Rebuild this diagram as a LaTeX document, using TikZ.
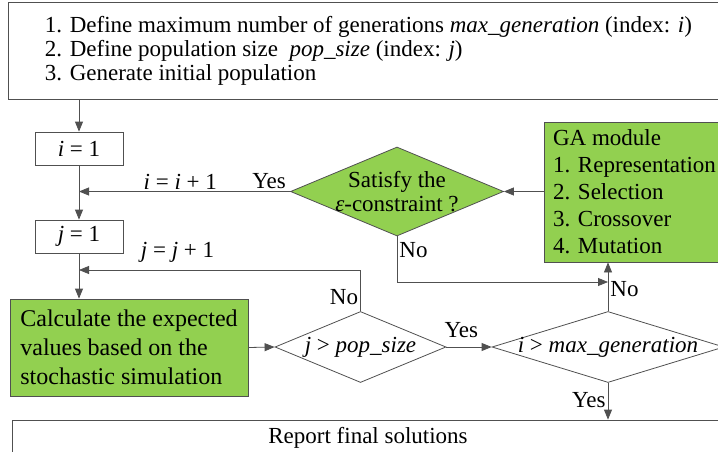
\documentclass[tikz,border=0pt]{standalone}
\usepackage{fontspec}
\setmainfont{Liberation Serif}
\usetikzlibrary{shapes.geometric,arrows.meta}
\definecolor{flowgreen}{RGB}{146,208,80}
\definecolor{flowline}{RGB}{80,80,80}
\tikzstyle{flowbox}=[rectangle, draw=flowline, line width=0.8pt, inner sep=0pt]
\tikzstyle{flowgreenbox}=[flowbox, fill=flowgreen]
\tikzstyle{flowdiamond}=[diamond, draw=flowline, line width=0.8pt, inner sep=0pt]
\tikzstyle{flowarrow}=[draw=flowline, line width=0.8pt, -{Triangle[length=10pt,width=8pt]}]
\tikzstyle{flowlabel}=[inner sep=2pt]
\newcommand{\flowdecision}[4]{
	\node[flowdiamond, #4] (#1) at (#2) {};
	\node[align=center, inner sep=0pt] (#1-text) at (#2) {#3};}

\begin{document}
\begin{tikzpicture}[x=1pt, y=-1pt, font=\rmfamily\fontsize{23}{24}\selectfont]
	\useasboundingbox (0,0) rectangle (718,452);

	\node[flowbox, anchor=north west, minimum width=720pt, minimum height=97pt, align=left] (init) at (8,2)
		{1. Define maximum number of generations \textit{max\_generation} (index: \textit{i})\\
		 2. Define population size \ \textit{pop\_size} (index: \textit{j})\\
		 3. Generate initial population};
	\node[flowbox, minimum width=88pt, minimum height=33pt] (i1) at (79,148.5) {\textit{i} = 1};
	\node[flowbox, minimum width=88pt, minimum height=33pt] (j1) at (79,236.5) {\textit{j} = 1};
	\node[flowgreenbox, minimum width=238pt, minimum height=97pt, align=left, font=\rmfamily\fontsize{24}{29}\selectfont] (calc) at (129,347.5)
		{Calculate the expected\\values based on the\\stochastic simulation};
	\node[flowgreenbox, minimum width=181pt, minimum height=140pt, align=left, font=\rmfamily\fontsize{23}{27}\selectfont] (ga) at (634.5,192)
		{GA module\\1. Representation\\2. Selection\\3. Crossover\\4. Mutation};
	\node[flowbox, minimum width=712pt, minimum height=36pt] (report) at (368,438) {Report final solutions};

	\flowdecision{sat}{397,191.5}{Satisfy the\\\textit{ε}-constraint ?}{fill=flowgreen, minimum width=213pt, minimum height=89pt}
	\flowdecision{jdec}{360.5,347}{\textit{j} > \textit{pop\_size}}{minimum width=171pt, minimum height=71pt}
	\flowdecision{idec}{608,347}{\textit{i} > \textit{max\_generation}}{minimum width=232pt, minimum height=71pt}

	\coordinate (jret) at (360.5,270);
	\coordinate (merge) at (608,282);

	\draw[flowarrow] (i1 |- init.south) -- (i1.north);
	\draw[flowarrow] (i1.south) -- (j1.north);
	\draw[flowarrow] (sat.west) -- (sat.west -| i1.south)
		node[flowlabel, above, pos=0.1] {Yes}
		node[flowlabel, above, pos=0.52] {\textit{i} = \textit{i} + 1};
	\draw[flowarrow] (j1.south) -- (j1 |- calc.north);
	\draw[flowarrow] (calc.east) -- (jdec.west);
	\draw[flowarrow] (jdec.north) -- (jret) node[flowlabel, left, pos=0.34] {No}
		-- (jret -| j1.south) node[flowlabel, above=5pt, pos=0.65] {\textit{j} = \textit{j} + 1};
	\draw[flowarrow] (jdec.east) -- (idec.west) node[flowlabel, above=7pt, pos=0.33] {Yes};
	\draw[flowarrow] (ga.west |- sat.east) -- (sat.east);
	\draw[flowarrow] (sat.south) |- (merge) node[flowlabel, right, pos=0.15] {No};
	\draw[flowarrow] (idec.north) -- (idec.north |- ga.south) node[flowlabel, right, pos=0.45] {No};
	\draw[flowarrow] (idec.south) -- (idec.south |- report.north) node[flowlabel, left, pos=0.47] {Yes};
\end{tikzpicture}
\end{document}
